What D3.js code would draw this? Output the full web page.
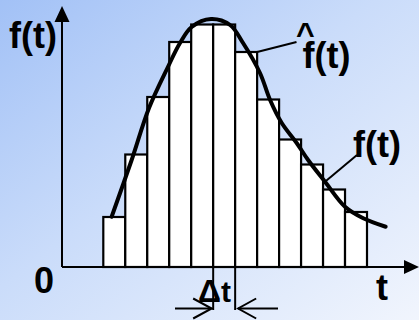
<!DOCTYPE html>
<html>
<head>
<meta charset="utf-8">
<script src="https://cdn.jsdelivr.net/npm/d3@7"></script>
<style>
  html, body { margin: 0; padding: 0; }
  body { width: 419px; height: 320px; overflow: hidden; }
  svg { display: block; }
  text { font-family: "Liberation Sans", Arial, sans-serif; font-weight: bold; fill: #000; }
</style>
</head>
<body>
<script>
// Histogram bins (t units) and the bin heights (estimated density f^(t))
const binStarts = [0, 1, 2, 3, 4, 5, 6, 7, 8, 9, 10, 11];
const binWidth = 1;
const binHeights = [0.20, 0.45, 0.68, 0.90, 0.97, 0.97, 0.86, 0.67, 0.51, 0.41, 0.31, 0.22];

// Smooth density f(t) sampled along t
const curveT = [0.38, 1.29, 2.08, 2.94, 3.49, 4.02, 4.90, 5.77, 6.36, 7.13, 7.59, 8.12, 8.80, 9.32, 10.09, 11.00, 11.83, 12.85];
const curveF = [0.201, 0.428, 0.636, 0.80, 0.896, 0.96, 0.992, 0.968, 0.896, 0.776, 0.668, 0.576, 0.496, 0.428, 0.341, 0.241, 0.195, 0.161];

// Text labels
const axisLabelY = "f(t)";
const axisLabelX = "t";
const originLabel = "0";
const histLabel = "f(t)";
const histHat = "^";
const curveLabel = "f(t)";
const deltaSymbol = "Δ";
const deltaVar = "t";

const W = 419, H = 320;
const originX = 62, originY = 267;

const svg = d3.select("body").append("svg")
  .attr("width", W).attr("height", H);

// background
const defs = svg.append("defs");
const grad = defs.append("linearGradient")
  .attr("id", "bg").attr("x1", 0).attr("y1", 0).attr("x2", 1).attr("y2", 1);
grad.append("stop").attr("offset", 0).attr("stop-color", "#a2c1f6");
grad.append("stop").attr("offset", 0.45).attr("stop-color", "#cadcfa");
grad.append("stop").attr("offset", 1).attr("stop-color", "#f1f5fd");
svg.append("rect").attr("width", W).attr("height", H).attr("fill", "url(#bg)");

const x = d3.scaleLinear().domain([0, 12]).range([103.3, 367]);
const y = d3.scaleLinear().domain([0, 1]).range([originY, 17]);

// bars
svg.append("g").selectAll("rect")
  .data(binStarts.map((s, i) => ({ s, h: binHeights[i] })))
  .join("rect")
  .attr("x", d => x(d.s))
  .attr("y", d => y(d.h))
  .attr("width", d => x(d.s + binWidth) - x(d.s))
  .attr("height", d => y(0) - y(d.h))
  .attr("fill", "#fff")
  .attr("stroke", "#000")
  .attr("stroke-width", 2.2);

// axes
const axes = svg.append("g").attr("stroke", "#000").attr("stroke-width", 2);
axes.append("line").attr("x1", originX).attr("y1", originY).attr("x2", originX).attr("y2", 18);
axes.append("line").attr("x1", originX).attr("y1", originY).attr("x2", 408).attr("y2", originY);
svg.append("path").attr("d", `M${originX},6 L${originX - 7.5},22 L${originX + 7.5},22 Z`).attr("fill", "#000");
svg.append("path").attr("d", `M419,${originY} L404,${originY - 7} L404,${originY + 7} Z`).attr("fill", "#000");

// density curve
const line = d3.line()
  .x((d, i) => x(curveT[i]))
  .y(d => y(d))
  .curve(d3.curveCatmullRom.alpha(0.5));
svg.append("path")
  .attr("d", line(curveF))
  .attr("fill", "none")
  .attr("stroke", "#000")
  .attr("stroke-width", 4)
  .attr("stroke-linecap", "round");

// leader lines
const leaders = svg.append("g").attr("stroke", "#000").attr("stroke-width", 2);
leaders.append("line")
  .attr("x1", x(binStarts[6] + binWidth)).attr("y1", y(binHeights[6]))
  .attr("x2", 296.5).attr("y2", 42);
leaders.append("line")
  .attr("x1", x(curveT[14])).attr("y1", y(curveF[14]))
  .attr("x2", 357).attr("y2", 155);

// labels
svg.append("text").attr("x", 9).attr("y", 48).attr("font-size", 36).text(axisLabelY);
svg.append("text").attr("x", 44).attr("y", 293).attr("text-anchor", "middle").attr("font-size", 36).text(originLabel);
svg.append("text").attr("x", 382).attr("y", 300).attr("text-anchor", "middle").attr("font-size", 36).text(axisLabelX);

// f-hat label: circumflex set above the f
const hat = svg.append("text");
hat.append("tspan").attr("x", 296).attr("y", 45).attr("font-size", 32).text(histHat);
hat.append("tspan").attr("x", 302.5).attr("y", 68).attr("font-size", 36).text(histLabel);

svg.append("text").attr("x", 353).attr("y", 157).attr("font-size", 36).text(curveLabel);

// Δt marker under the highlighted bin
const dA = x(binStarts[5]), dB = x(binStarts[5] + binWidth);
const marks = svg.append("g").attr("stroke", "#000").attr("stroke-width", 2).attr("fill", "none");
marks.append("line").attr("x1", dA).attr("y1", originY).attr("x2", dA).attr("y2", 310);
marks.append("line").attr("x1", dB).attr("y1", originY).attr("x2", dB).attr("y2", 310);
const ay = 308.5;
marks.append("line").attr("x1", 175).attr("y1", ay).attr("x2", dA - 1.5).attr("y2", ay);
marks.append("path").attr("d", `M${dA - 20},${ay - 10} L${dA - 1.5},${ay} L${dA - 20},${ay + 10}`);
marks.append("line").attr("x1", dB + 3).attr("y1", ay).attr("x2", 278).attr("y2", ay);
marks.append("path").attr("d", `M${dB + 21},${ay - 10} L${dB + 3},${ay} L${dB + 21},${ay + 10}`);

const dt = svg.append("text").attr("x", 198).attr("y", 302);
dt.append("tspan").attr("font-size", 32).text(deltaSymbol);
dt.append("tspan").attr("font-size", 30).attr("dx", 0).text(deltaVar);
</script>
</body>
</html>
